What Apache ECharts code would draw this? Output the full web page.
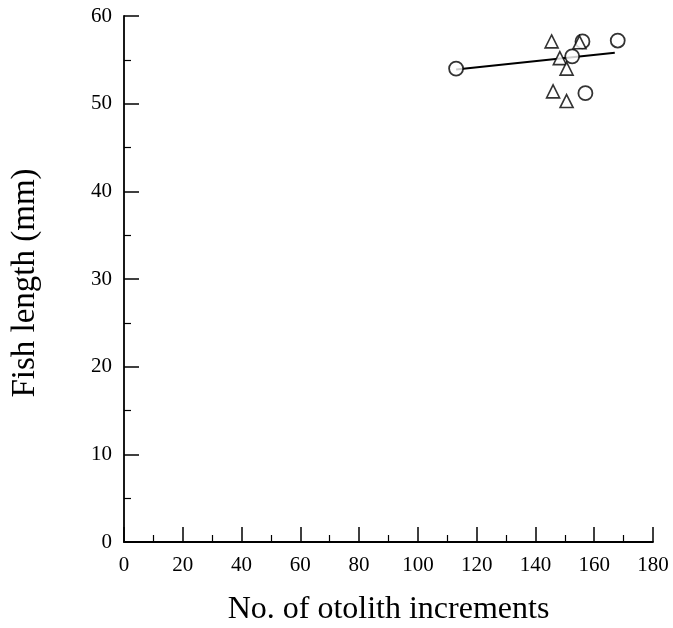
<!DOCTYPE html>
<html>
<head>
<meta charset="utf-8">
<script src="https://cdn.jsdelivr.net/npm/echarts@6/dist/echarts.min.js"></script>
<style>
  html, body { margin: 0; padding: 0; background: #fff; }
  #chart { width: 673px; height: 628px; }
</style>
</head>
<body>
<div id="chart"></div>
<script>
  // circles and triangles: [increments, length mm]
  const circlePoints = [
    [113, 54.0],
    [152.5, 55.4],
    [156, 57.1],
    [168, 57.2],
    [157, 51.2]
  ]
  const trianglePoints = [
    [145.5, 57.1],
    [148.3, 55.2],
    [150.6, 54.0],
    [155, 57.0],
    [146, 51.4],
    [150.6, 50.3]
  ]
  const fitLine = [
    [113, 53.9],
    [167, 55.8]
  ]

  const font = 'Liberation Serif'
  const chart = echarts.init(document.getElementById('chart'))

  const axisCommon = {
    axisLine: { show: true, lineStyle: { color: '#000', width: 1.8 } },
    axisTick: { show: true, inside: true, length: 15, lineStyle: { color: '#000', width: 1.5 } },
    minorTick: { show: true, splitNumber: 2, length: 7, lineStyle: { color: '#000', width: 1.2 } },
    splitLine: { show: false },
    axisLabel: { color: '#000', fontFamily: font, fontSize: 21 },
    nameTextStyle: { color: '#000', fontFamily: font, fontSize: 32 }
  }

  chart.setOption({
    animation: false,
    backgroundColor: '#fff',
    grid: { left: 124, right: 20, top: 16, bottom: 86, containLabel: false, outerBoundsMode: 'none' },
    xAxis: {
      ...axisCommon,
      type: 'value',
      min: 0,
      max: 180,
      interval: 20,
      name: 'No. of otolith increments',
      nameLocation: 'middle',
      nameGap: 52,
      axisLabel: { ...axisCommon.axisLabel, margin: 13 }
    },
    yAxis: {
      ...axisCommon,
      type: 'value',
      min: 0,
      max: 60,
      interval: 10,
      name: 'Fish length (mm)',
      nameLocation: 'middle',
      nameGap: 82,
      nameTextStyle: { ...axisCommon.nameTextStyle, fontSize: 33, padding: [0, 8, 0, 0] },
      axisLabel: { ...axisCommon.axisLabel, margin: 12 }
    },
    series: [
      {
        type: 'line',
        data: fitLine,
        symbol: 'none',
        lineStyle: { color: '#000', width: 2 },
        z: 1
      },
      {
        type: 'scatter',
        data: circlePoints,
        symbol: 'circle',
        symbolSize: 14,
        itemStyle: { color: '#fff', borderColor: '#000', borderWidth: 1.8 },
        z: 2
      },
      {
        type: 'scatter',
        data: trianglePoints,
        symbol: 'triangle',
        symbolSize: 13,
        itemStyle: { color: '#fff', borderColor: '#000', borderWidth: 1.6 },
        z: 3
      }
    ]
  })
</script>
</body>
</html>
